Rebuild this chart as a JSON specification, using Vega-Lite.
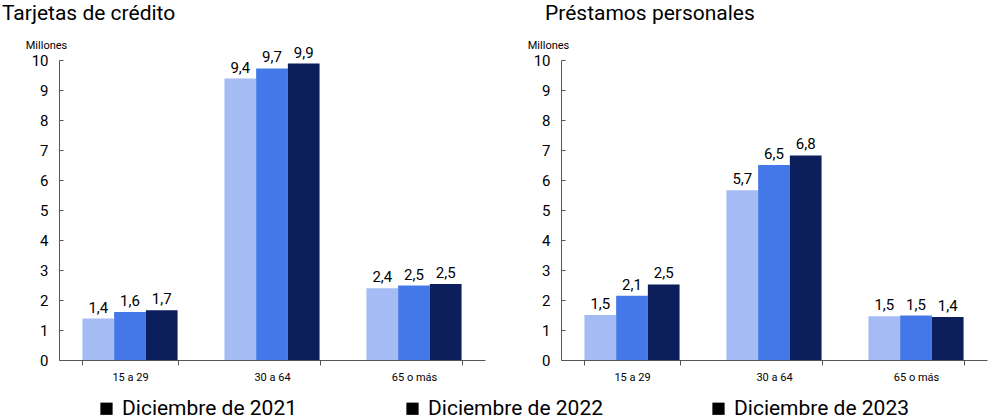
{
  "$schema": "https://vega.github.io/schema/vega-lite/v6.json",
  "background": "white",
  "padding": {"left": 2, "top": 3, "right": 5, "bottom": 2},
  "datasets": {
    "tarjetas": [
      {"edad": "15 a 29", "periodo": "Diciembre de 2021", "valor": 1.38},
      {"edad": "15 a 29", "periodo": "Diciembre de 2022", "valor": 1.6},
      {"edad": "15 a 29", "periodo": "Diciembre de 2023", "valor": 1.66},
      {"edad": "30 a 64", "periodo": "Diciembre de 2021", "valor": 9.38},
      {"edad": "30 a 64", "periodo": "Diciembre de 2022", "valor": 9.72},
      {"edad": "30 a 64", "periodo": "Diciembre de 2023", "valor": 9.88},
      {"edad": "65 o más", "periodo": "Diciembre de 2021", "valor": 2.39},
      {"edad": "65 o más", "periodo": "Diciembre de 2022", "valor": 2.48},
      {"edad": "65 o más", "periodo": "Diciembre de 2023", "valor": 2.53}
    ],
    "prestamos": [
      {"edad": "15 a 29", "periodo": "Diciembre de 2021", "valor": 1.5},
      {"edad": "15 a 29", "periodo": "Diciembre de 2022", "valor": 2.14},
      {"edad": "15 a 29", "periodo": "Diciembre de 2023", "valor": 2.52},
      {"edad": "30 a 64", "periodo": "Diciembre de 2021", "valor": 5.66},
      {"edad": "30 a 64", "periodo": "Diciembre de 2022", "valor": 6.5},
      {"edad": "30 a 64", "periodo": "Diciembre de 2023", "valor": 6.82},
      {"edad": "65 o más", "periodo": "Diciembre de 2021", "valor": 1.46},
      {"edad": "65 o más", "periodo": "Diciembre de 2022", "valor": 1.48},
      {"edad": "65 o más", "periodo": "Diciembre de 2023", "valor": 1.43}
    ]
  },
  "hconcat": [
    {
      "title": {"text": "Tarjetas de crédito", "dx": -57},
      "data": {"name": "tarjetas"},
      "width": 426,
      "height": 300,
      "encoding": {
        "x": {"field": "edad", "type": "nominal", "title": null,
              "scale": {"paddingInner": 0.33, "paddingOuter": 0.165}},
        "xOffset": {"field": "periodo", "type": "nominal"},
        "y": {"field": "valor", "type": "quantitative", "title": "Millones",
              "scale": {"domain": [0, 10], "nice": false}}
      },
      "layer": [
        {"mark": {"type": "bar"},
         "encoding": {"color": {"field": "periodo", "type": "nominal", "legend": null}}},
        {"mark": {"type": "text", "baseline": "bottom", "dy": -3, "fontSize": 15, "font": "Roboto", "color": "black"},
         "encoding": {"text": {"field": "valor", "type": "quantitative", "format": ".1f"}}},
        {"transform": [{"filter": "datum.valor < 0"}],
         "mark": {"type": "point", "filled": true, "color": "black", "opacity": 1},
         "encoding": {"shape": {"field": "periodo", "type": "nominal", "title": null,
           "scale": {"domain": ["Diciembre de 2021", "Diciembre de 2022", "Diciembre de 2023"], "range": ["square", "square", "square"]}}}}
      ]
    },
    {
      "title": {"text": "Préstamos personales", "dx": -16},
      "data": {"name": "prestamos"},
      "width": 426,
      "height": 300,
      "encoding": {
        "x": {"field": "edad", "type": "nominal", "title": null,
              "scale": {"paddingInner": 0.33, "paddingOuter": 0.165}},
        "xOffset": {"field": "periodo", "type": "nominal"},
        "y": {"field": "valor", "type": "quantitative", "title": "Millones",
              "scale": {"domain": [0, 10], "nice": false}}
      },
      "layer": [
        {"mark": {"type": "bar"},
         "encoding": {"color": {"field": "periodo", "type": "nominal", "legend": null}}},
        {"mark": {"type": "text", "baseline": "bottom", "dy": -3, "fontSize": 15, "font": "Roboto", "color": "black"},
         "encoding": {"text": {"field": "valor", "type": "quantitative", "format": ".1f"}}},
        {"transform": [{"filter": "datum.valor < 0"}],
         "mark": {"type": "point", "filled": true, "color": "black", "opacity": 1},
         "encoding": {"shape": {"field": "periodo", "type": "nominal", "title": null,
           "scale": {"domain": ["Diciembre de 2021", "Diciembre de 2022", "Diciembre de 2023"], "range": ["square", "square", "square"]}}}}
      ]
    }
  ],
  "spacing": 42,
  "resolve": {"scale": {"color": "shared", "shape": "shared"}},
  "config": {
    "locale": {"number": {"decimal": ",", "thousands": ".", "grouping": [3], "currency": ["", " €"]}},
    "font": "Roboto",
    "view": {"stroke": null},
    "range": {"category": ["#A4BBF4", "#4478E8", "#0C1F5C"]},
    "title": {"anchor": "start", "frame": "group", "fontSize": 21, "fontWeight": "normal", "font": "Roboto", "color": "black", "offset": 15},
    "axisX": {
      "labelAngle": 0, "labelFontSize": 11, "labelColor": "black", "labelPadding": 6,
      "domainColor": "#555555", "tickColor": "#555555", "tickBand": "extent", "tickSize": 5
    },
    "axisY": {
      "values": [0, 1, 2, 3, 4, 5, 6, 7, 8, 9, 10], "grid": false,
      "labelFontSize": 15, "labelColor": "black", "labelPadding": 15,
      "domainColor": "#555555", "tickColor": "#555555", "tickSize": -4,
      "titleAngle": 0, "titleFontSize": 11, "titleFontWeight": "normal", "titleColor": "black",
      "titleAlign": "center", "titleBaseline": "bottom", "titleX": -13, "titleY": -10
    },
    "legend": {
      "orient": "none", "legendX": 37, "legendY": 338, "direction": "horizontal",
      "symbolSize": 150, "symbolStrokeWidth": 0, "symbolOpacity": 1, "symbolFillColor": "black",
      "labelFontSize": 21, "labelColor": "black", "labelOffset": 5, "labelLimit": 400, "columnPadding": 105,
      "title": null
    },
    "bar": {"binSpacing": 0}
  },
  "encoding": {}
}
